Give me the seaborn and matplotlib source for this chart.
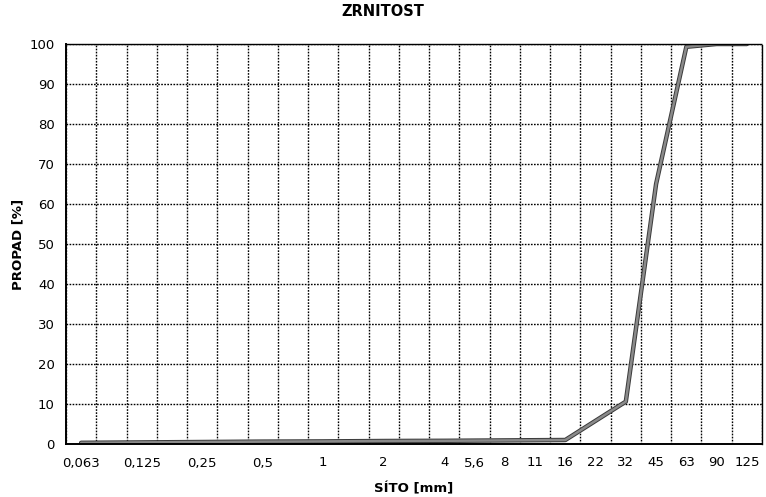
import numpy as np
import pandas as pd
import matplotlib
matplotlib.use("Agg")
import matplotlib.pyplot as plt
import matplotlib.patheffects as pe
import seaborn as sns

# sieve categories (blank labels for unlabeled intermediate categories)
sieve_labels = ["0,063", "", "0,125", "", "0,25", "", "0,5", "", "1", "", "2", "",
                "4", "5,6", "8", "11", "16", "22", "32", "45", "63", "90", "125"]
passing = [0.3, 0.35, 0.4, 0.45, 0.5, 0.55, 0.6, 0.62, 0.65, 0.7, 0.75, 0.78,
           0.8, 0.85, 0.9, 0.95, 1.0, 5.8, 10.6, 65.0, 99.3, 100.0, 100.0]
y_ticks = list(range(0, 101, 10))

sns.set_theme(style="white")
plt.rcParams['font.family'] = ['DejaVu Sans']
plt.rcParams['text.color'] = 'black'
plt.rcParams['axes.labelcolor'] = 'black'

df = pd.DataFrame({"idx": np.arange(len(sieve_labels)), "passing": passing})

fig = plt.figure(figsize=(7.66, 4.97), dpi=100)
ax = fig.add_axes([66/766, 1-444/497, (762-66)/766, (444-44)/497])

sns.lineplot(data=df, x="idx", y="passing", ax=ax, color="#8a8a8a", linewidth=1.8,
             path_effects=[pe.Stroke(linewidth=3.2, foreground="#3a3a3a"), pe.Normal()])

n = len(sieve_labels)
ax.set_xlim(-0.5, n - 0.5)
ax.set_ylim(0, 100)

# boundaries: major ticks (grid + tick marks), centers: minor ticks (labels)
ax.set_xticks(np.arange(-0.5, n, 1.0))
ax.set_xticklabels([])
ax.set_xticks(np.arange(n), minor=True)
ax.set_xticklabels(sieve_labels, minor=True)
ax.tick_params(axis="x", which="major", direction="out", length=5, width=1.2, color="black")
ax.tick_params(axis="x", which="minor", length=0, pad=9, labelsize=9.5, labelcolor="black")
ax.set_yticks(y_ticks)
ax.tick_params(axis="y", direction="out", length=5, width=1.2, color="black", labelsize=9.5,
               labelcolor="black", pad=3)

ax.grid(True, which="major", axis="both", color="black", linestyle=(0, (1.2, 1.0)), linewidth=1.0)
ax.set_axisbelow(True)

for s in ["top", "right"]:
    ax.spines[s].set_visible(True)
    ax.spines[s].set_color("black")
    ax.spines[s].set_linestyle((0, (1.2, 1.0)))
    ax.spines[s].set_linewidth(1.0)
for s in ["left", "bottom"]:
    ax.spines[s].set_color("black")
    ax.spines[s].set_linewidth(1.4)

ax.set_xlabel("SÍTO [mm]", fontsize=9.5, fontweight="bold", color="black", labelpad=9)
ax.set_ylabel("PROPAD [%]", fontsize=9.5, fontweight="bold", color="black", labelpad=4)
fig.suptitle("ZRNITOST", x=0.5, y=1-12/497, va="center", fontsize=10.5, fontweight="bold",
             color="black")

fig.savefig("out.png", dpi=100, facecolor="white")
